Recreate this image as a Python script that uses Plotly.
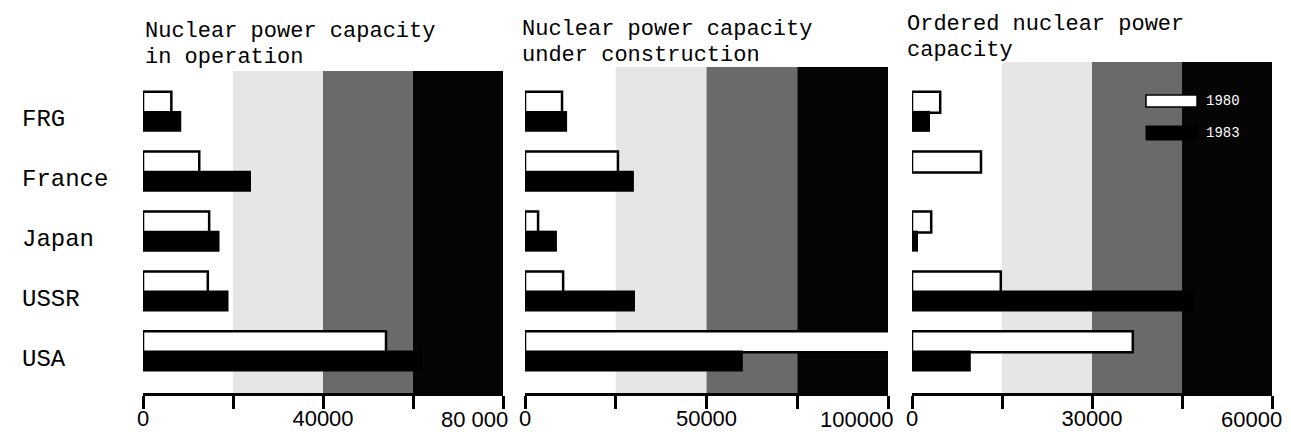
import plotly.graph_objects as go

# ---------------- data ----------------
countries = ["FRG", "France", "Japan", "USSR", "USA"]
years = ["1980", "1983"]

operation_early = [6300, 12500, 14700, 14400, 54000]
operation_late = [8500, 24000, 17000, 19000, 62000]
construction_early = [10200, 25600, 3600, 10500, 101000]
construction_late = [11600, 30000, 8800, 30300, 60000]
ordered_early = [4700, 11500, 3200, 14800, 36800]
ordered_late = [3000, 0, 1000, 47000, 9800]

titles = [
    ["Nuclear power capacity", "in operation"],
    ["Nuclear power capacity", "under construction"],
    ["Ordered nuclear power", "capacity"],
]
axis_max = [80000, 100000, 60000]
tick_step = [20000, 25000, 15000]
tick_labels = [
    ["0", "", "40000", "", "80 000"],
    ["0", "", "50000", "", "100000"],
    ["0", "", "30000", "", "60000"],
]

# ---------------- layout constants ----------------
W, H = 1291, 437
TOP, BOTTOM = 62, 393  # plot area top / axis line (px)
PH = BOTTOM - TOP


def py(pix):
    return (BOTTOM - pix) / PH


domains = [[143 / W, 503 / W], [525 / W, 888 / W], [912 / W, 1272 / W]]
band_tops = [71, 67, 62]
title_x = [143, 520, 905]
title_y = [[31, 57], [30, 56], [24, 50]]
last_label_shift = [7, 7, 12]

MONO = "Liberation Mono, Courier New, monospace"
SANS = "Liberation Sans, Arial, sans-serif"

series = [
    (operation_early, operation_late),
    (construction_early, construction_late),
    (ordered_early, ordered_late),
]

fig = go.Figure()
shapes = []
annotations = []

for k in range(3):
    xa = "x" if k == 0 else f"x{k+1}"
    ya = "y" if k == 0 else f"y{k+1}"
    early, late = series[k]
    fig.add_trace(go.Bar(
        orientation="h", x=early, y=countries, xaxis=xa, yaxis=ya,
        width=0.35, offset=-0.335, name=years[0], showlegend=False,
        marker=dict(color="white", line=dict(color="black", width=2.5)),
    ))
    fig.add_trace(go.Bar(
        orientation="h", x=late, y=countries, xaxis=xa, yaxis=ya,
        width=0.35, offset=-0.015, name=years[1], showlegend=False,
        marker=dict(color="black", line=dict(color="black", width=0)),
    ))

    step = tick_step[k]
    top = py(band_tops[k])
    for (a, b, col) in [(1, 2, "#e6e6e6"), (2, 3, "#6a6a6a"), (3, 4, "#050505")]:
        shapes.append(dict(type="rect", xref=xa, yref="paper",
                           x0=a * step, x1=b * step, y0=0, y1=top,
                           fillcolor=col, line=dict(width=0), layer="below"))

    axis_name = "xaxis" if k == 0 else f"xaxis{k+1}"
    yaxis_name = "yaxis" if k == 0 else f"yaxis{k+1}"
    tv = [i * step for i in range(5)]
    tt = list(tick_labels[k])
    last = tt[-1]
    tt[-1] = ""
    fig.update_layout(**{
        axis_name: dict(
            domain=domains[k], anchor=ya, range=[0, axis_max[k]],
            showgrid=False, zeroline=False, showline=True, linewidth=3,
            linecolor="black", ticks="outside", ticklen=13, tickwidth=3,
            tickcolor="black", tickvals=tv, ticktext=tt,
            ticklabelstandoff=-9,
            tickfont=dict(family=SANS, size=22, color="black"),
            automargin=False, fixedrange=True,
        ),
        yaxis_name: dict(
            domain=[0, 1], anchor=xa, type="category",
            categoryorder="array", categoryarray=countries,
            range=[4.695, -0.831], showgrid=False, zeroline=False,
            showline=False, showticklabels=False, ticks="",
            automargin=False, fixedrange=True,
        ),
    })
    annotations.append(dict(
        xref=xa, yref="paper", x=axis_max[k], y=py(419), text=last,
        xanchor="right", yanchor="middle", xshift=last_label_shift[k],
        showarrow=False, font=dict(family=SANS, size=22, color="black"),
    ))

    for line_text, yy in zip(titles[k], title_y[k]):
        annotations.append(dict(
            xref="paper", yref="paper", x=title_x[k] / W, y=py(yy),
            text=line_text, xanchor="left", yanchor="middle",
            showarrow=False, font=dict(family=MONO, size=22, color="black"),
        ))

# category labels
for c in countries:
    annotations.append(dict(
        xref="paper", yref="y", x=20 / W, y=c, yshift=-8,
        text=c, xanchor="left", yanchor="middle", showarrow=False,
        font=dict(family=MONO, size=24, color="black"),
    ))

# legend (inside third panel)
shapes.append(dict(type="rect", xref="x3", yref="paper", x0=39000, x1=47500,
                   y0=py(107), y1=py(95), fillcolor="white",
                   line=dict(color="black", width=1.5)))
shapes.append(dict(type="rect", xref="x3", yref="paper", x0=39000, x1=47500,
                   y0=py(140), y1=py(126), fillcolor="black",
                   line=dict(color="black", width=1)))
for yr, yy in zip(years, [101, 133]):
    annotations.append(dict(
        xref="x3", yref="paper", x=48700, y=py(yy), text=yr,
        xanchor="left", yanchor="middle", showarrow=False,
        font=dict(family=MONO, size=14, color="white"),
    ))

fig.update_layout(
    width=W, height=H, barmode="overlay",
    margin=dict(l=0, r=0, t=TOP, b=H - BOTTOM, autoexpand=False),
    paper_bgcolor="white", plot_bgcolor="white",
    shapes=shapes, annotations=annotations,
    showlegend=False,
)

fig.write_html("out.html", config={"displayModeBar": False},
               post_script="document.body.style.margin='0';document.body.style.overflow='hidden';")
